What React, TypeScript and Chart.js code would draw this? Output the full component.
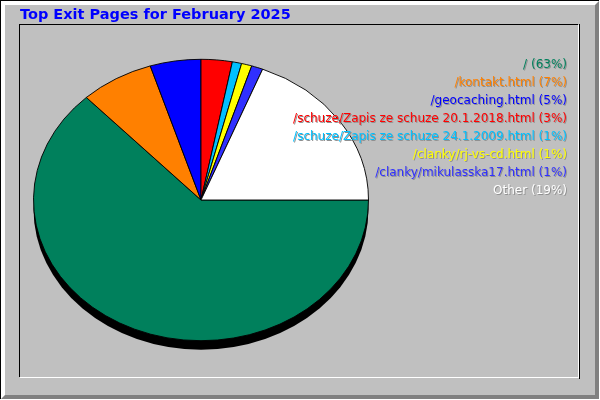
import React, { useEffect, useRef } from "react";
import { Chart, registerables } from "chart.js";

Chart.register(...registerables);

const chartTitle = "Top Exit Pages for February 2025";
const labels = [
  "/",
  "/kontakt.html",
  "/geocaching.html",
  "/schuze/Zapis ze schuze 20.1.2018.html",
  "/schuze/Zapis ze schuze 24.1.2009.html",
  "/clanky/rj-vs-cd.html",
  "/clanky/mikulasska17.html",
  "Other",
];
const values = [63.0, 7.1, 4.9, 3.0, 0.9, 1.0, 1.1, 19.0];
const colors = [
  "#00805c",
  "#ff8000",
  "#0000ff",
  "#ff0000",
  "#00c0ff",
  "#ffff00",
  "#3030ff",
  "#ffffff",
];

const SQUASH = 0.84;
const DEPTH = 9;

const framePlugin = {
  id: "frame",
  beforeDraw(chart: any) {
    const ctx = chart.ctx as CanvasRenderingContext2D;
    const W = chart.width;
    const H = chart.height;
    ctx.save();
    ctx.fillStyle = "#ffffff";
    ctx.fillRect(0, 0, W, H);
    ctx.fillStyle = "#000000";
    ctx.fillRect(0, 0, W - 1, 1);
    ctx.fillRect(0, 0, 1, H - 1);
    ctx.fillStyle = "#ffffff";
    ctx.fillRect(1, 1, W - 2, H - 2);
    ctx.fillStyle = "#808080";
    ctx.beginPath();
    ctx.moveTo(W - 1, 1);
    ctx.lineTo(W - 1, H - 1);
    ctx.lineTo(1, H - 1);
    ctx.lineTo(5, H - 5);
    ctx.lineTo(W - 5, H - 5);
    ctx.lineTo(W - 5, 5);
    ctx.closePath();
    ctx.fill();
    ctx.fillStyle = "#c0c0c0";
    ctx.fillRect(5, 5, W - 10, H - 10);
    const L = 20, T = 25, R = 578, B = 377;
    ctx.fillStyle = "#000000";
    ctx.fillRect(L - 1, T - 1, R - L + 1, 1);
    ctx.fillRect(L - 1, T - 1, 1, B - T + 1);
    ctx.fillRect(R + 1, T - 1, 1, B - T + 3);
    ctx.fillStyle = "#ffffff";
    ctx.fillRect(R, T, 1, B - T + 1);
    ctx.fillRect(L, B, R - L + 1, 1);
    ctx.fillStyle = "#0000ff";
    ctx.font = "bold 14.5px 'DejaVu Sans'";
    ctx.textAlign = "left";
    ctx.textBaseline = "alphabetic";
    ctx.fillText(chartTitle, 20, 19);
    ctx.restore();
  },
};

const ellipsePlugin = {
  id: "ellipse",
  beforeDatasetsDraw(chart: any) {
    const arc = chart.getDatasetMeta(0).data[0];
    const { x, y, outerRadius } = arc;
    const ctx = chart.ctx as CanvasRenderingContext2D;
    ctx.save();
    ctx.fillStyle = "#000000";
    ctx.beginPath();
    ctx.ellipse(x, y + DEPTH, outerRadius, outerRadius * SQUASH, 0, 0, Math.PI * 2);
    ctx.fill();
    ctx.translate(x, y);
    ctx.scale(1, SQUASH);
    ctx.translate(-x, -y);
  },
  afterDatasetsDraw(chart: any) {
    chart.ctx.restore();
  },
};

const legendPlugin = {
  id: "textLegend",
  afterDraw(chart: any) {
    const ctx = chart.ctx as CanvasRenderingContext2D;
    const total = values.reduce((a, b) => a + b, 0);
    ctx.save();
    ctx.font = "12px 'DejaVu Sans'";
    ctx.textAlign = "right";
    ctx.textBaseline = "alphabetic";
    const xr = 567;
    labels.forEach((lab, i) => {
      const pct = Math.round((values[i] / total) * 100);
      const text = `${lab} (${pct}%)`;
      const yb = 68 + i * 18;
      ctx.fillStyle = "#909090";
      ctx.fillText(text, xr + 1, yb + 1);
      ctx.fillStyle = colors[i];
      ctx.fillText(text, xr, yb);
    });
    ctx.restore();
  },
};

export default function App() {
  const ref = useRef<HTMLCanvasElement>(null);
  useEffect(() => {
    if (!ref.current) return;
    const chart = new Chart(ref.current, {
      type: "pie",
      data: {
        labels,
        datasets: [
          {
            data: values,
            backgroundColor: colors,
            borderColor: "#000000",
            borderWidth: 1,
          },
        ],
      },
      options: {
        responsive: false,
        animation: false,
        devicePixelRatio: 1,
        rotation: 90,
        events: [],
        layout: { padding: { left: 33, top: 32, right: 231, bottom: 32 } },
        plugins: {
          legend: { display: false },
          title: { display: false },
          tooltip: { enabled: false },
        },
      },
      plugins: [framePlugin, ellipsePlugin, legendPlugin],
    });
    return () => chart.destroy();
  }, []);
  return (
    <div style={{ position: "absolute", left: 0, top: 0, width: 600, height: 400 }}>
      <canvas ref={ref} width={600} height={400} />
    </div>
  );
}
